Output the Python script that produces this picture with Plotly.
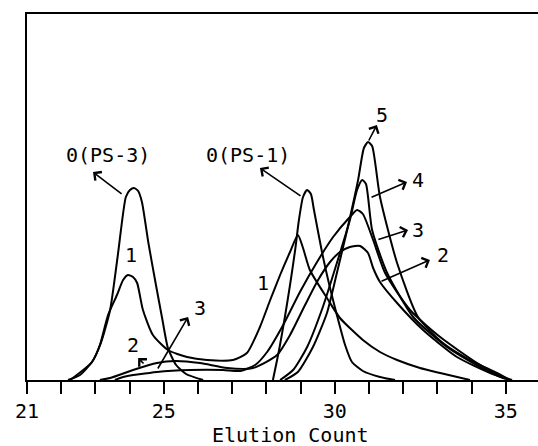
import plotly.graph_objects as go

# ---- data (elution count vs detector response, arbitrary units) ----
ps3_0_x = [22.2, 22.55, 22.9, 23.15, 23.43, 23.66, 23.89, 24.01, 24.13, 24.25, 24.36, 24.55, 24.77, 24.95, 25.12, 25.36, 25.65, 26.15]
ps3_0_y = [0, 5, 18, 36, 70, 126, 183, 190, 192, 189, 178, 137, 95, 62, 32, 15, 6, 0]

c1_x = [22.26, 22.9, 23.13, 23.37, 23.63, 23.81, 23.95, 24.10, 24.22, 24.39, 24.68, 25.12, 25.68, 26.26, 27.02, 27.43, 27.81, 28.11, 28.40, 28.69, 28.92, 29.07, 29.27, 29.77, 30.15, 30.82, 31.32, 31.82, 32.49, 33.08, 33.95]
c1_y = [0, 18, 35, 65, 85, 100, 105, 103, 97, 70, 45, 30, 23, 20, 20, 27, 53, 80, 105, 128, 145, 132, 110, 82, 62, 40, 28, 20, 12, 7, 0]

ps1_0_x = [28.19, 28.37, 28.54, 28.69, 28.84, 28.95, 29.07, 29.19, 29.30, 29.39, 29.63, 29.86, 30.06, 30.30, 30.50, 30.82, 31.32, 31.76]
ps1_0_y = [0, 30, 63, 95, 130, 160, 183, 190, 186, 170, 127, 92, 65, 35, 18, 9, 3, 0]

c2_x = [23.13, 23.43, 24.10, 24.80, 25.33, 26.06, 26.85, 27.61, 28.31, 28.69, 29.13, 29.51, 29.86, 30.15, 30.44, 30.74, 30.97, 31.12, 31.32, 31.82, 32.58, 33.57, 34.54, 35.12]
c2_y = [0, 2, 10, 17, 19, 17, 12, 12, 25, 45, 75, 100, 118, 128, 133, 134, 127, 112, 98, 77, 50, 23, 7, 0]

c3_x = [23.57, 23.81, 24.80, 25.77, 26.73, 27.23, 27.67, 28.02, 28.49, 28.98, 29.48, 29.95, 30.44, 30.65, 30.82, 31.12, 31.47, 32.20, 33.08, 34.16, 34.92, 35.18]
c3_y = [0, 3, 8, 10, 10, 9, 15, 28, 55, 88, 118, 143, 163, 170, 166, 140, 107, 70, 43, 17, 3, 0]

c4_x = [28.40, 28.78, 29.19, 29.65, 30.06, 30.44, 30.65, 30.80, 30.91, 31.09, 31.53, 32.29, 33.28, 34.25, 34.92, 35.18]
c4_y = [0, 10, 33, 73, 117, 160, 190, 200, 196, 150, 107, 63, 33, 13, 2, 0]

c5_x = [28.54, 28.92, 29.36, 29.77, 30.06, 30.36, 30.68, 30.85, 30.97, 31.09, 31.32, 31.82, 32.43, 33.16, 33.95, 34.74, 35.12]
c5_y = [0, 8, 33, 67, 107, 150, 200, 232, 238, 234, 183, 117, 63, 37, 20, 7, 0]

tick_vals = list(range(21, 36))
tick_text = ["21", "", "", "", "25", "", "", "", "", "30", "", "", "", "", "35"]

# label text, label position, arrow tail, arrow head
labels = [
    ("0(PS-3)", 23.37, 225, 23.81, 185, 22.93, 208),
    ("0(PS-1)", 27.46, 225, 29.04, 183, 27.81, 212),
    ("1", 24.04, 125, None, None, None, None),
    ("1", 27.90, 97, None, None, None, None),
    ("2", 24.10, 35, 24.45, 15, 24.25, 22),
    ("3", 26.06, 72, 24.80, 10, 25.71, 63),
    ("5", 31.38, 265, 30.97, 238, 31.23, 255),
    ("4", 32.43, 200, 31.03, 182, 32.11, 198),
    ("3", 32.43, 150, 31.23, 140, 32.14, 150),
    ("2", 33.16, 125, 31.32, 98, 32.78, 120),
]

FONT = "DejaVu Sans Mono"

fig = go.Figure()
for xs, ys in [(ps3_0_x, ps3_0_y), (c1_x, c1_y), (ps1_0_x, ps1_0_y), (c2_x, c2_y),
               (c3_x, c3_y), (c4_x, c4_y), (c5_x, c5_y)]:
    fig.add_trace(go.Scatter(x=xs, y=ys, mode="lines",
                             line=dict(color="black", width=2, shape="spline", smoothing=0.6),
                             showlegend=False, hoverinfo="skip"))

for txt, tx, ty, ax, ay, hx, hy in labels:
    fig.add_annotation(x=tx, y=ty, text=txt, showarrow=False,
                       font=dict(family=FONT, size=20, color="black"))
    if ax is not None:
        fig.add_annotation(x=hx, y=hy, ax=ax, ay=ay, xref="x", yref="y",
                           axref="x", ayref="y", text="", showarrow=True,
                           arrowhead=4, arrowsize=1.3, arrowwidth=1.6, arrowcolor="black")

fig.add_annotation(x=28.7, y=-0.15, xref="x", yref="paper", yanchor="middle",
                   text="Elution Count", showarrow=False,
                   font=dict(family=FONT, size=20, color="black"))

fig.update_layout(
    width=538, height=446,
    margin=dict(l=27, r=0, t=14, b=66),
    paper_bgcolor="white", plot_bgcolor="white",
    xaxis=dict(range=[21, 35.94], tickvals=tick_vals, ticktext=tick_text,
               ticks="outside", ticklen=12, tickwidth=2, tickcolor="black",
               showline=True, linecolor="black", linewidth=2, mirror=True,
               showgrid=False, zeroline=False,
               tickfont=dict(family=FONT, size=20, color="black")),
    yaxis=dict(range=[0, 366], showticklabels=False, ticks="",
               showline=True, linecolor="black", linewidth=2,
               showgrid=False, zeroline=False),
)

fig.write_html("out.html")
